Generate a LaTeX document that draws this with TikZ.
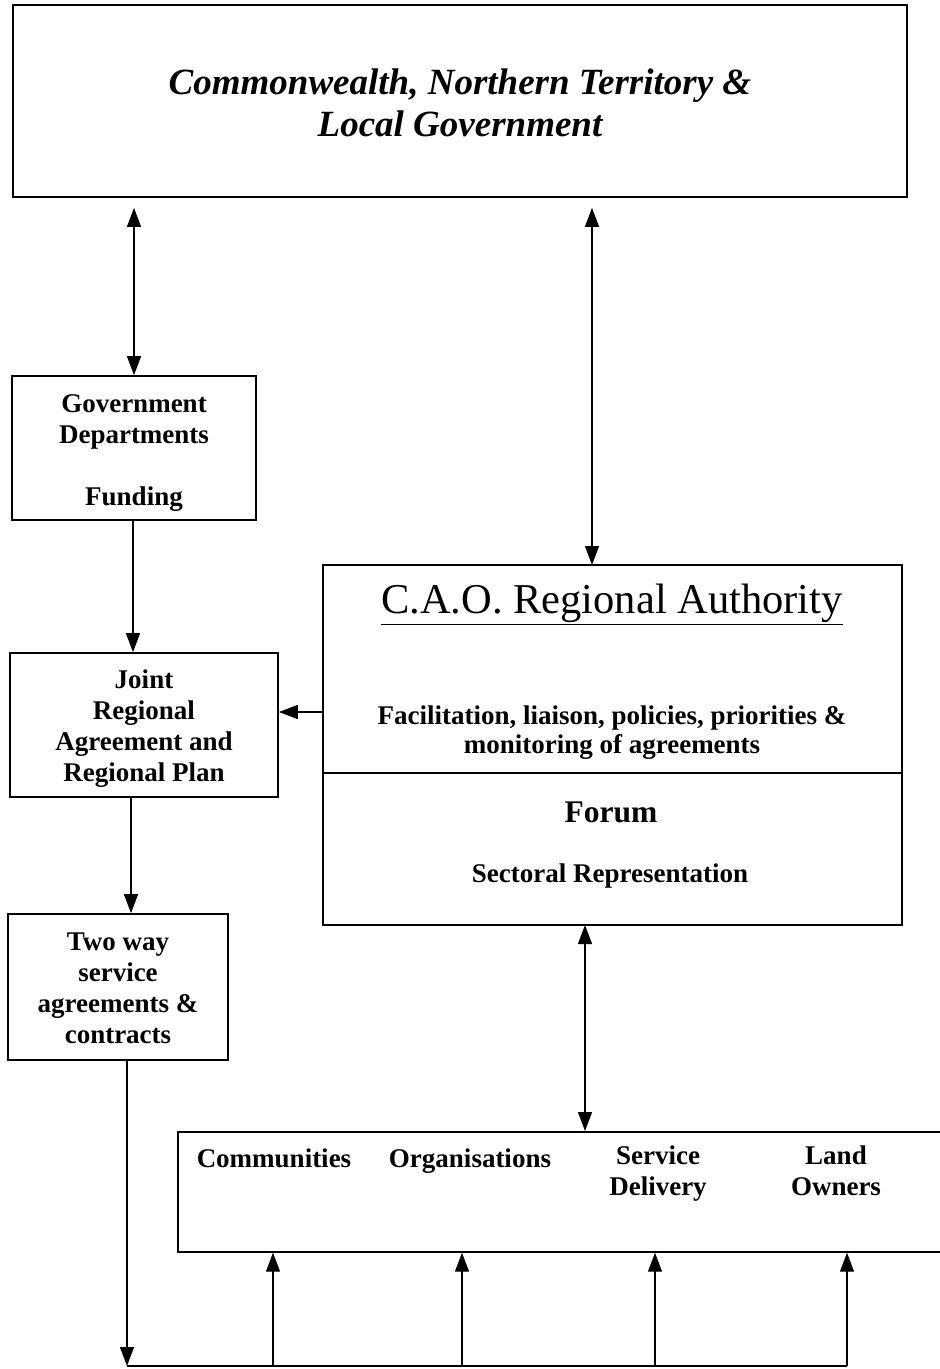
\documentclass[tikz,border=0pt]{standalone}
\usepackage{fontspec}
\setmainfont{Liberation Serif}
\usetikzlibrary{arrows.meta}
\newcommand{\bodyf}{\fontsize{27}{31}\selectfont\bfseries}
\begin{document}
\begin{tikzpicture}[x=1pt,y=-1pt,
  box/.style={draw, line width=1.7pt, inner sep=0pt},
  lbl/.style={inner sep=0pt, align=center, font=\bodyf},
  arr/.style={line width=1.2pt, -{Triangle[length=19pt,width=14pt]}},
  darr/.style={line width=1.2pt, {Triangle[length=19pt,width=14pt]}-{Triangle[length=19pt,width=14pt]}}]
\clip (0,0) rectangle (940,1369);
\fill[white] (0,0) rectangle (940,1369);
% boxes
\node[box, minimum width=894pt, minimum height=192pt] (top) at (460,101) {};
\node[lbl, font=\fontsize{37}{42}\selectfont\bfseries\itshape] (topt) at ([yshift=-2pt]top.center)
  {Commonwealth, Northern Territory \&\\Local Government};
\node[box, minimum width=244pt, minimum height=144pt] (gov) at (134,448) {};
\node[lbl] (govt) at ([yshift=-5pt]gov.center) {Government\\Departments\\[31pt]Funding};
\node[box, minimum width=268pt, minimum height=144pt] (joint) at (144,725) {};
\node[lbl] (jointt) at ([yshift=-4pt]joint.center) {Joint\\Regional\\Agreement and\\Regional Plan};
\node[box, minimum width=220pt, minimum height=146pt] (two) at (118,987) {};
\node[lbl] (twot) at ([yshift=-1pt]two.center) {Two way\\service\\agreements \&\\contracts};
\node[box, minimum width=579pt, minimum height=360pt] (cao) at (612.5,745) {};
\draw[line width=1.2pt] (cao.west |- 0,773) -- (cao.east |- 0,773);
\node[lbl, font=\fontsize{42.5}{48}\selectfont] (caot) at (612,604) {\underline{C.A.O. Regional Authority}};
\node[lbl, font=\fontsize{27}{29}\selectfont\bfseries] (fac) at (612,733) {Facilitation, liaison, policies, priorities \&\\monitoring of agreements};
\node[lbl, font=\fontsize{31.5}{34}\selectfont\bfseries] (forum) at (611,812) {Forum};
\node[lbl] (sect) at (610,876) {Sectoral Representation};
\node[box, minimum width=790pt, minimum height=120pt, anchor=north west] (grp) at (177,1131) {};
\node[lbl, anchor=base] (comm) at (274,1167) {Communities};
\node[lbl, anchor=base] (org) at (470,1167) {Organisations};
\node[lbl, anchor=north] (serv) at (658,1146) {Service\\Delivery};
\node[lbl, anchor=north] (land) at (836,1146) {Land\\Owners};
% connectors
\coordinate (a2) at (592,565);
\coordinate (a3) at (585,925);
\coordinate (ja) at (323,712);
\coordinate (b0) at (127,1366);
\coordinate (u1) at (273,1366);
\coordinate (u2) at (462,1366);
\coordinate (u3) at (655,1366);
\coordinate (u4) at (847,1366);
\draw[darr, shorten <=10pt] (gov.north |- top.south) -- (gov.north);
\draw[darr, shorten <=10pt] (a2 |- top.south) -- (a2);
\draw[arr] (gov.south -| 133,0) -- (joint.north -| 133,0);
\draw[arr] (ja) -- (ja -| joint.east);
\draw[arr] (joint.south -| 131,0) -- (two.north -| 131,0);
\draw[darr] (a3) -- (a3 |- grp.north);
\draw[arr] (two.south -| b0) -- (b0);
\draw[line width=1.2pt] (b0) -- (u4);
\foreach \u in {u1,u2,u3,u4} \draw[arr] (\u) -- (\u |- grp.south);
\end{tikzpicture}
\end{document}
